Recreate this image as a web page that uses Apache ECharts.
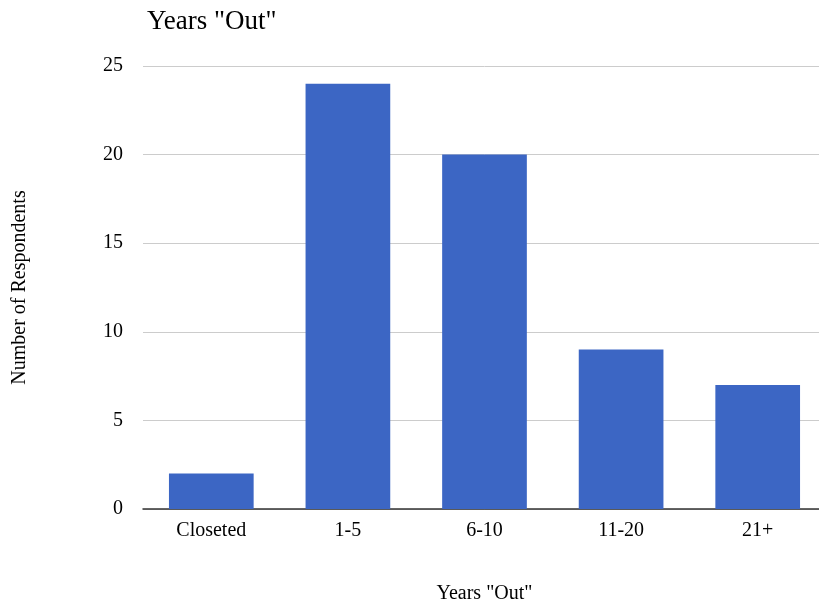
<!DOCTYPE html>
<html>
<head>
<meta charset="utf-8">
<script src="https://cdn.jsdelivr.net/npm/echarts@6/dist/echarts.min.js"></script>
<style>
  html, body { margin: 0; padding: 0; background: #fff; overflow: hidden; }
  /* the plot area runs a few pixels past the visible right edge */
  #chart { width: 826px; height: 607px; }
</style>
</head>
<body>
<div id="chart"></div>
<script>
// Survey responses: how long respondents have been "out"
const categories = ['Closeted', '1-5', '6-10', '11-20', '21+'];
const respondents = [2, 24, 20, 9, 7];
const yTicks = { min: 0, max: 25, interval: 5 };

const serif = '"Liberation Serif", "DejaVu Serif", serif';

const chart = echarts.init(document.getElementById('chart'), null, { renderer: 'canvas' });
chart.setOption({
  animation: false,
  backgroundColor: '#ffffff',
  title: {
    text: 'Years "Out"',
    left: 142,
    top: 3,
    textStyle: { fontFamily: serif, fontSize: 27, fontWeight: 'normal', color: '#000' }
  },
  grid: { left: 143, right: 0, top: 66, bottom: 98, containLabel: false, outerBoundsMode: 'none' },
  xAxis: {
    type: 'category',
    data: categories,
    name: 'Years "Out"',
    nameLocation: 'middle',
    nameGap: 75,
    nameTextStyle: { fontFamily: serif, fontSize: 20, color: '#000' },
    axisLine: { lineStyle: { color: '#333', width: 1.5 } },
    axisTick: { show: false },
    axisLabel: { fontFamily: serif, fontSize: 20, color: '#000', margin: 12 }
  },
  yAxis: {
    type: 'value',
    min: yTicks.min,
    max: yTicks.max,
    interval: yTicks.interval,
    name: 'Number of Respondents',
    nameLocation: 'middle',
    nameRotate: 90,
    nameGap: 113,
    nameTextStyle: { fontFamily: serif, fontSize: 20, color: '#000' },
    axisLine: { show: false },
    axisTick: { show: false },
    axisLabel: { fontFamily: serif, fontSize: 20, color: '#000', margin: 20 },
    splitLine: { lineStyle: { color: '#cccccc', width: 1 } }
  },
  series: [{
    type: 'bar',
    data: respondents,
    barCategoryGap: '38%',
    itemStyle: { color: '#3c66c4' }
  }]
});
</script>
</body>
</html>
